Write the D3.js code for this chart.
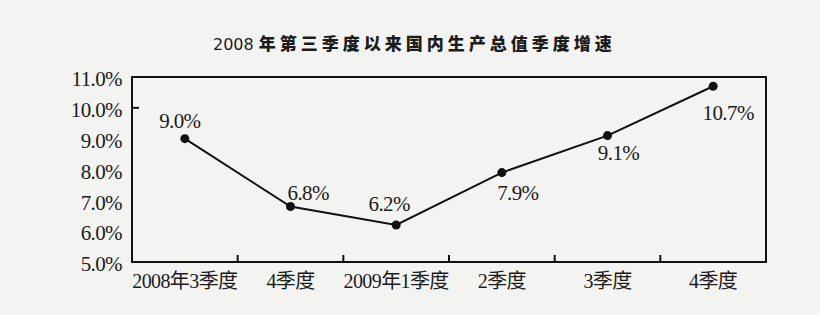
<!DOCTYPE html>
<html>
<head>
<meta charset="utf-8">
<script src="https://cdn.jsdelivr.net/npm/d3@7"></script>
<style>
  html, body { margin: 0; padding: 0; background: #f3f3f1; }
  #chart-container { width: 820px; height: 315px; }
  text { fill: #1c1c1c; }
</style>
</head>
<body>
<div id="chart-container"></div>
<script>
// 2008年第三季度以来国内生产总值季度增速
const quarters = ["2008年3季度", "4季度", "2009年1季度", "2季度", "3季度", "4季度"];
const growth = [9.0, 6.8, 6.2, 7.9, 9.1, 10.7];
const yTicks = [5, 6, 7, 8, 9, 10, 11];
const titleYear = "2008 ";
const titleRest = "年第三季度以来国内生产总值季度增速";

// vị trí nhãn so với điểm (dx, dy, anchor)
const labelPos = [
    [-5, -11, "middle"], [-3, -7, "start"], [-7, -14, "middle"],
    [16, 27, "middle"], [11, 24, "middle"], [15, 34, "middle"]
];

const width = 820, height = 315;
const plot = { left: 132, right: 766, top: 77, bottom: 262 };

const svg = d3.select("#chart-container")
    .append("svg")
    .attr("width", width)
    .attr("height", height);

// tiêu đề
const title = svg.append("text")
    .attr("x", 213)
    .attr("y", 50)
    .style("font-size", "17px");
title.append("tspan")
    .style("font-family", "'DejaVu Sans', sans-serif")
    .style("font-size", "16px")
    .text(titleYear);
title.append("tspan")
    .style("font-family", "'Noto Sans CJK SC', sans-serif")
    .style("font-weight", "900")
    .style("letter-spacing", "4px")
    .text(titleRest);

// thang đo
const x = d3.scaleBand().domain(d3.range(quarters.length)).range([plot.left, plot.right]).padding(0);
const y = d3.scaleLinear().domain([5, 11]).range([plot.bottom, plot.top]);

// khung
svg.append("rect")
    .attr("x", plot.left)
    .attr("y", plot.top)
    .attr("width", plot.right - plot.left)
    .attr("height", plot.bottom - plot.top)
    .attr("fill", "none")
    .attr("stroke", "#111")
    .attr("stroke-width", 2);

// trục Y
const yAxis = svg.append("g")
    .attr("transform", `translate(${plot.left},0)`)
    .call(d3.axisLeft(y).tickValues(yTicks).tickSize(0).tickPadding(10).tickFormat(d => d.toFixed(1) + "%"));
yAxis.select(".domain").remove();
yAxis.selectAll("text")
    .attr("dy", "0.42em")
    .style("font-family", "'Liberation Serif', serif")
    .style("font-size", "21px")
    .style("letter-spacing", "-0.6px");
svg.append("line")
    .attr("x1", plot.left).attr("x2", plot.left + 7)
    .attr("y1", y(10)).attr("y2", y(10))
    .attr("stroke", "#111").attr("stroke-width", 2);

// trục X
const xAxis = svg.append("g")
    .attr("transform", `translate(0,${plot.bottom})`)
    .call(d3.axisBottom(x).tickSize(0).tickPadding(12).tickFormat(i => quarters[i]));
xAxis.select(".domain").remove();
xAxis.selectAll("text")
    .style("font-family", "'Liberation Serif', 'Noto Sans CJK SC', serif")
    .style("font-size", "20px")
    .style("letter-spacing", "-0.6px");
svg.append("g")
    .selectAll("line")
    .data(d3.range(1, quarters.length))
    .enter()
    .append("line")
    .attr("x1", i => x(i)).attr("x2", i => x(i))
    .attr("y1", plot.bottom).attr("y2", plot.bottom - 7)
    .attr("stroke", "#111").attr("stroke-width", 2);

// đường
const cx = i => x(i) + x.bandwidth() / 2;
svg.append("path")
    .datum(growth)
    .attr("fill", "none")
    .attr("stroke", "#111")
    .attr("stroke-width", 2)
    .attr("d", d3.line().x((d, i) => cx(i)).y(d => y(d)));

svg.selectAll(".dot")
    .data(growth)
    .enter()
    .append("circle")
    .attr("cx", (d, i) => cx(i))
    .attr("cy", d => y(d))
    .attr("r", 4.5)
    .attr("fill", "#111");

// nhãn giá trị
svg.selectAll(".label")
    .data(growth)
    .enter()
    .append("text")
    .attr("x", (d, i) => cx(i) + labelPos[i][0])
    .attr("y", (d, i) => y(d) + labelPos[i][1])
    .attr("text-anchor", (d, i) => labelPos[i][2])
    .style("font-family", "'Liberation Serif', serif")
    .style("font-size", "21px")
    .style("letter-spacing", "-0.6px")
    .text(d => d.toFixed(1) + "%");
</script>
</body>
</html>
